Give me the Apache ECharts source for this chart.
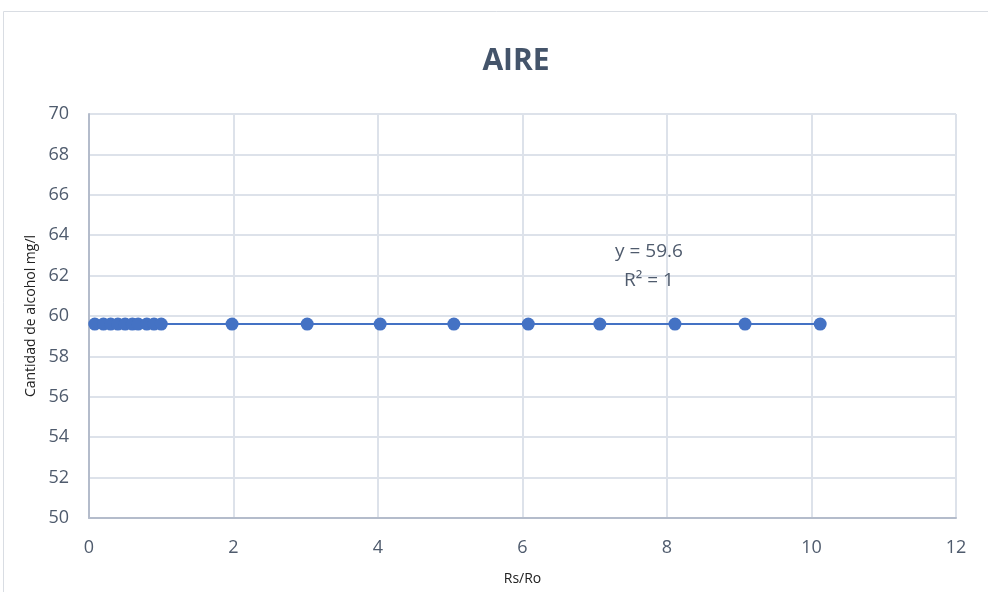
<!DOCTYPE html>
<html><head><meta charset="utf-8">
<script src="https://cdn.jsdelivr.net/npm/echarts@6/dist/echarts.min.js"></script>
<style>html,body{margin:0;padding:0;background:#fff}#c{width:988px;height:592px}</style>
</head><body><div id="c"></div>
<script>
const title = 'AIRE';
const xName = 'Rs/Ro';
const yName = 'Cantidad de alcohol mg/l';
const rsRo = [0.08, 0.2, 0.3, 0.4, 0.5, 0.6, 0.68, 0.8, 0.9, 1.0, 1.98, 3.02, 4.03, 5.05, 6.08, 7.07, 8.11, 9.08, 10.12];
const alcohol = [59.6, 59.6, 59.6, 59.6, 59.6, 59.6, 59.6, 59.6, 59.6, 59.6, 59.6, 59.6, 59.6, 59.6, 59.6, 59.6, 59.6, 59.6, 59.6];
const trendText = ['y = 59.6', 'R² = 1'];
const trendPos = [7.75, 62.45];

const points = rsRo.map((x, i) => [x, alcohol[i]]);
const font = 'Open Sans, Noto Sans, sans-serif';
const chart = echarts.init(document.getElementById('c'), null, {renderer: 'canvas'});
chart.setOption({
  animation: false,
  backgroundColor: '#fff',
  graphic: [{type: 'rect', shape: {x: 3.5, y: 11.5, width: 1000, height: 600}, style: {fill: 'none', stroke: '#d9dde3', lineWidth: 1}, silent: true}],
  title: {text: title, left: 511, top: 41, textAlign: 'center',
    textStyle: {fontFamily: font, fontSize: 30, fontWeight: 'bold', color: '#44546a'}},
  grid: {left: 89, right: 32, top: 114, bottom: 74},
  xAxis: {type: 'value', min: 0, max: 12, interval: 2,
    name: xName, nameLocation: 'middle', nameGap: 54,
    nameTextStyle: {fontFamily: font, fontSize: 14, color: '#222'},
    axisLine: {show: true, lineStyle: {color: '#b4bccb', width: 2}},
    axisTick: {show: false},
    axisLabel: {fontFamily: font, fontSize: 18, color: '#4f5b6d', margin: 21},
    splitLine: {show: true, lineStyle: {color: '#dde2ea', width: 2}}},
  yAxis: {type: 'value', min: 50, max: 70, interval: 2,
    name: yName, nameLocation: 'middle', nameGap: 51, nameRotate: 90,
    nameTextStyle: {fontFamily: font, fontSize: 14, color: '#222'},
    axisLine: {show: true, lineStyle: {color: '#b4bccb', width: 2}},
    axisTick: {show: false},
    axisLabel: {fontFamily: font, fontSize: 18, color: '#4f5b6d', margin: 20},
    splitLine: {show: true, lineStyle: {color: '#dde2ea', width: 2}}},
  series: [{
    type: 'line', data: points, symbol: 'circle', symbolSize: 13,
    lineStyle: {color: '#4472c4', width: 2},
    itemStyle: {color: '#4472c4'},
    markPoint: {
      symbol: 'rect', symbolSize: 1, itemStyle: {color: 'transparent'},
      data: [{coord: trendPos, label: {show: true, formatter: trendText.join('\n'),
        fontFamily: font, fontSize: 19, color: '#4f5b6d', lineHeight: 29, align: 'center'}}]
    }
  }]
});
</script></body></html>
